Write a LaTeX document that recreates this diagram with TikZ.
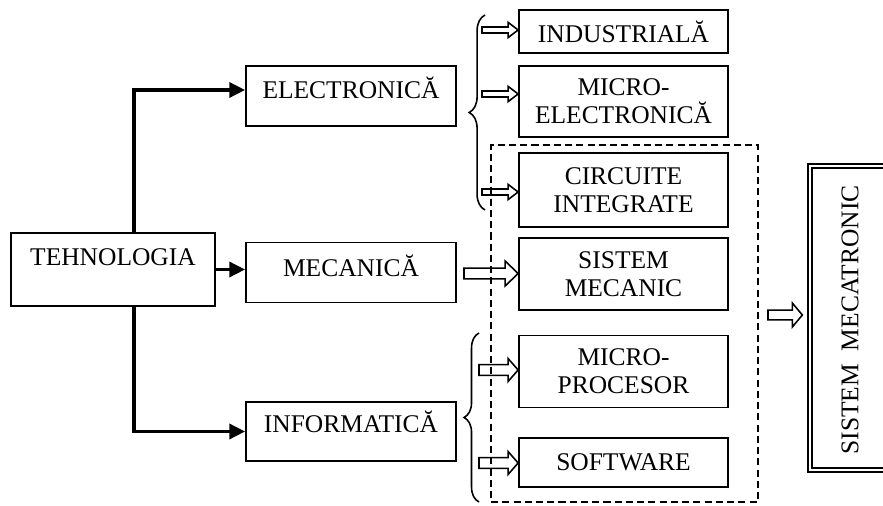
\documentclass[tikz,border=0pt]{standalone}
\usepackage{fontspec}
\setmainfont{Liberation Serif}
\usetikzlibrary{arrows.meta,calc,decorations.pathreplacing}

\tikzset{
  box/.style={draw, line width=1pt, inner sep=0pt, align=center, font=\fontsize{14.5}{16}\selectfont},
  raised/.style={text height=10pt, text depth=#1},
  branch/.style={line width=2pt, -{Triangle[length=9pt,width=8.5pt]}},
  hollow/.style={line width=0.9pt, line join=miter},
  brc/.style={decorate, decoration={brace, amplitude=#1}, line width=0.9pt},
}
% hollow arrow: start, target, shaft half, head half, head length
\newcommand{\hollowarrow}[5]{%
  \draw[hollow] let \p1=(#1), \p2=(#2) in
    (\x1,\y1+#3) -- (\x2-#5,\y1+#3) -- (\x2-#5,\y1+#4) -- (\x2,\y1)
    -- (\x2-#5,\y1-#4) -- (\x2-#5,\y1-#3) -- (\x1,\y1-#3) -- cycle;}

\begin{document}
\begin{tikzpicture}[x=0.02cm,y=-0.02cm]
\useasboundingbox (0,0) rectangle (883,506);
\clip (0,0) rectangle (883,506);
% left column
\node[box, raised=14.2pt, minimum width=4.08cm, minimum height=1.46cm] (tehn) at (113,269.5) {TEHNOLOGIA};
\node[box, raised=7.4pt, minimum width=4.2cm, minimum height=1.2cm] (elec) at (351,96) {ELECTRONICĂ};
\node[box, raised=5.6pt, minimum width=4.2cm, minimum height=1.2cm] (meca) at (351,272.5) {MECANICĂ};
\node[box, raised=9pt, minimum width=4.2cm, minimum height=1.18cm] (info) at (351,431.5) {INFORMATICĂ};
% right column
\node[box, minimum width=4.18cm, minimum height=0.86cm] (indu) at (623.5,31.5) {INDUSTRIALĂ};
\node[box, minimum width=4.18cm, minimum height=1.42cm] (micel) at (623.5,101.5) {MICRO-\\ELECTRONICĂ};
\node[box, minimum width=4.18cm, minimum height=1.48cm] (circ) at (623.5,190) {CIRCUITE\\INTEGRATE};
\node[box, minimum width=4.18cm, minimum height=1.44cm] (sismec) at (623.5,274) {SISTEM\\MECANIC};
\node[box, minimum width=4.18cm, minimum height=1.44cm] (micpr) at (623.5,371.5) {MICRO-\\PROCESOR};
\node[box, minimum width=4.18cm, minimum height=0.98cm] (soft) at (623.5,462.5) {SOFTWARE};
\node[draw, dashed, dash pattern=on 4pt off 2.4pt, line width=1pt, inner sep=0pt, minimum width=5.34cm, minimum height=7.14cm] (group) at (624.5,323.5) {};
% result
\node[draw, double, double distance=1.3pt, line width=1.2pt, inner sep=0pt, minimum width=1.9cm, minimum height=6.08cm] (frame) at (857.4,317.9) {};
\node[rotate=90, font=\fontsize{14.5}{16}\selectfont] (mecatr) at (850,320) {SISTEM\ \ MECATRONIC};
% branches
\draw[branch] ([xshift=0.42cm]tehn.north) |- ([yshift=0.12cm]elec.west);
\draw[branch] (tehn.east) -- (tehn.east -| meca.west);
\draw[branch] ([xshift=0.42cm]tehn.south) |- (info.west);
% braces
\draw[brc=9pt] (485,210) -- (485,15);
\draw[brc=8.5pt] (479,502) -- (479,333);
% hollow arrows
\coordinate (h1) at (482,30);
\coordinate (h2) at (482,94);
\coordinate (h3) at (482,192);
\coordinate (h4) at (464,273.5);
\coordinate (h5) at (479,370);
\coordinate (h6) at (479,463);
\coordinate (h7) at (768,315);
\hollowarrow{h1}{indu.west}{1.7pt}{4.3pt}{5.7pt}
\hollowarrow{h2}{micel.west}{1.7pt}{4.3pt}{5.7pt}
\hollowarrow{h3}{circ.west}{1.7pt}{4.3pt}{5.7pt}
\hollowarrow{h4}{sismec.west}{3.1pt}{7.1pt}{7.4pt}
\hollowarrow{h5}{micpr.west}{3.1pt}{6.5pt}{5.7pt}
\hollowarrow{h6}{soft.west}{3.1pt}{6.5pt}{5.7pt}
\hollowarrow{h7}{[xshift=-0.13cm]frame.west}{2.8pt}{6.8pt}{5.7pt}
\end{tikzpicture}
\end{document}
